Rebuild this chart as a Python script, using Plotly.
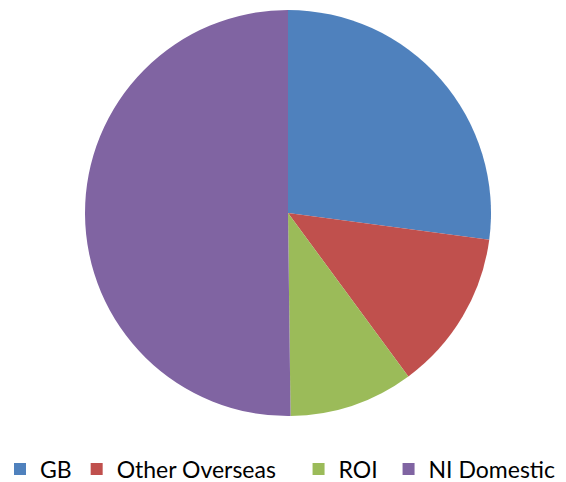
import plotly.graph_objects as go

# Share of sales by market
markets = ["GB", "Other Overseas", "ROI", "NI Domestic"]
shares = [27.1, 12.8, 9.9, 50.2]
colours = ["#4F81BD", "#C0504D", "#9BBB59", "#8064A2"]

# legend entries padded with non-breaking spaces for wider spacing
nbsp = "\u00a0"
legend_pad = [0, 3, 1, 0]
legend_labels = [m + nbsp * p for m, p in zip(markets, legend_pad)]

W, H = 566, 482
cx, cy, r = 288, 213, 203

fig = go.Figure(
    go.Pie(
        labels=legend_labels,
        values=shares,
        customdata=markets,
        hovertemplate="%{customdata}: %{percent}<extra></extra>",
        sort=False,
        direction="clockwise",
        rotation=0,
        marker=dict(colors=colours, line=dict(width=0)),
        textinfo="none",
        domain=dict(
            x=[(cx - r) / W, (cx + r) / W],
            y=[(H - cy - r) / H, (H - cy + r) / H],
        ),
    )
)

fig.update_layout(
    width=W,
    height=H,
    margin=dict(l=0, r=0, t=0, b=0, autoexpand=False),
    paper_bgcolor="white",
    plot_bgcolor="white",
    font=dict(family="Lato, 'Open Sans', sans-serif", size=23, color="#000000"),
    showlegend=True,
    legend=dict(
        orientation="h",
        x=0,
        xanchor="left",
        y=(H - 469) / H,
        yanchor="middle",
        traceorder="normal",
        bgcolor="rgba(0,0,0,0)",
    ),
)

fig.write_html("out.html")
